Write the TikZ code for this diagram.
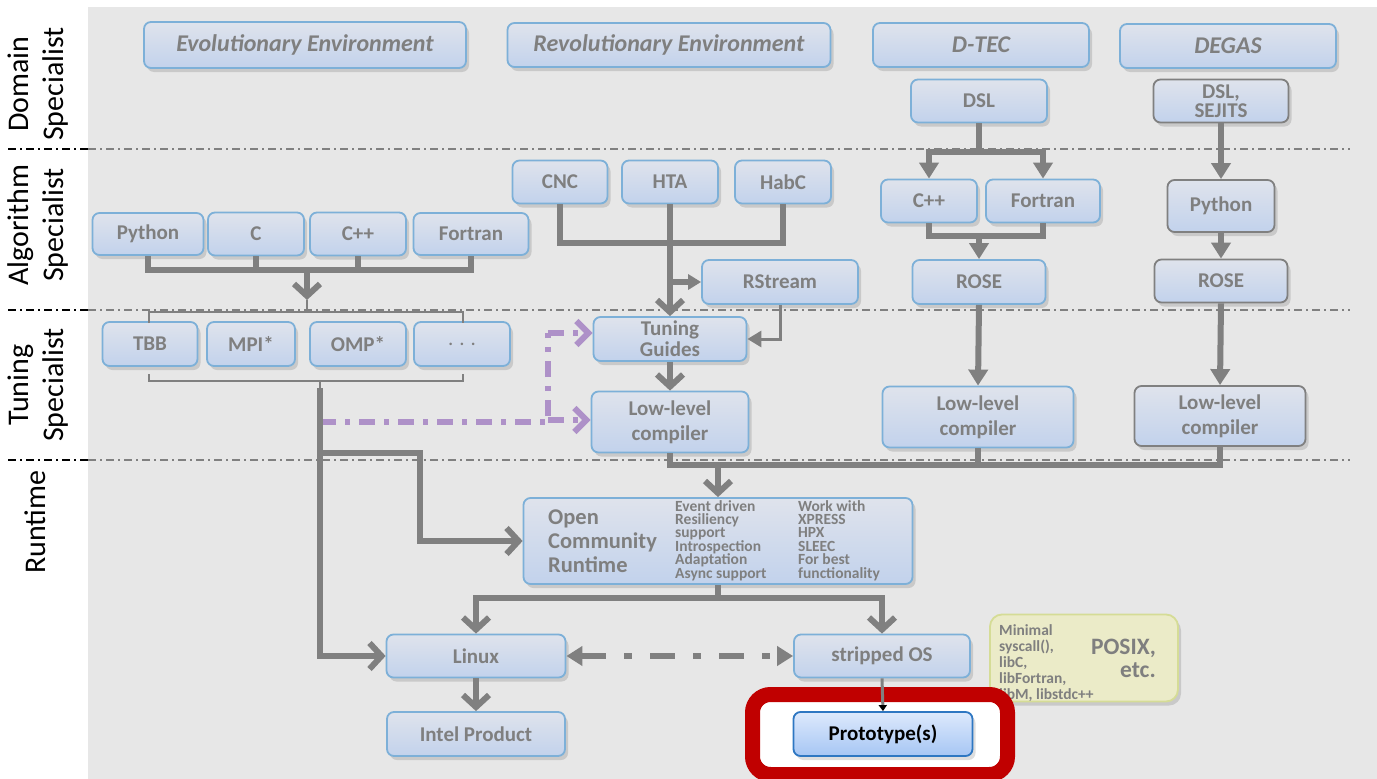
\documentclass[tikz,border=0pt]{standalone}
\usepackage{fontspec}
\setmainfont{Carlito}
\usetikzlibrary{arrows.meta,shadows,calc}

\definecolor{canvas}{HTML}{E7E7E7}
\definecolor{txt}{HTML}{7F7F7F}
\definecolor{edgeblue}{HTML}{7DB0D8}
\definecolor{boxtop}{HTML}{DFE3EC}
\definecolor{boxbot}{HTML}{C2D2EC}
\definecolor{wirecol}{HTML}{808080}
\definecolor{lilac}{HTML}{AE91C8}
\definecolor{framered}{HTML}{C00000}
\definecolor{notefill}{HTML}{EBEBC8}
\definecolor{noteedge}{HTML}{D5DC96}
\definecolor{protop}{HTML}{DDE9FC}
\definecolor{probot}{HTML}{A6C6F4}
\definecolor{proedge}{HTML}{2E77C2}

\newcommand{\fsz}[2]{\fontsize{#1}{#2}\selectfont}

\tikzset{
  chev/.tip={Straight Barb[length=12pt,width=26pt]},
  tri/.tip={Triangle[length=16pt,width=19pt]},
  box/.style={draw=edgeblue, line width=1.8pt, rounded corners=7pt,
    top color=boxtop, bottom color=boxbot, text=txt,
    font=\bfseries\fsz{21}{22}, align=center, inner sep=0pt,
    drop shadow={shadow xshift=3pt, shadow yshift=-4pt, opacity=0.13, fill=black}},
  greybox/.style={box, draw=wirecol},
  headbox/.style={box, font=\bfseries\itshape\fsz{24}{26}},
  lanelabel/.style={rotate=90, align=center, font=\fsz{30}{35}, text=black, inner sep=0pt},
  link/.style={draw=wirecol, line width=6pt},
  thinlink/.style={draw=wirecol, line width=3pt},
  bracket/.style={draw=wirecol, line width=1.4pt},
  lilacline/.style={draw=lilac, line width=6pt, dash pattern=on 16pt off 9pt on 5pt off 9pt},
  lanesep/.style={draw=wirecol, line width=1.4pt, dash pattern=on 8pt off 4pt on 2pt off 4pt},
  lanesepdark/.style={lanesep, draw=black},
}

\begin{document}
\begin{tikzpicture}[x=1pt,y=-1pt]
\useasboundingbox (0,0) rectangle (1377,779);
\fill[canvas] (88,7) rectangle (1377,779);

% lane separators
\foreach \yy in {149,310,460}{
  \draw[lanesepdark] (8,\yy) -- (88,\yy);
  \draw[lanesep] (88,\yy) -- (1350,\yy);
}

% lane labels
\node[lanelabel] (laneDom) at (38,84) {Domain\\Specialist};
\node[lanelabel] (laneAlg) at (38,225) {Algorithm\\Specialist};
\node[lanelabel] (laneTun) at (38,385) {Tuning\\Specialist};
\node[lanelabel] (laneRun) at (35,522) {Runtime};

% environments
\node[headbox, minimum width=322pt, minimum height=46pt] (evo) at (305,45) {Evolutionary Environment};
\node[headbox, minimum width=323pt, minimum height=44pt] (rev) at (669,45) {Revolutionary Environment};
\node[headbox, minimum width=216pt, minimum height=44pt] (dtec) at (981,45) {D-TEC};
\node[headbox, minimum width=216pt, minimum height=44pt] (degas) at (1228,46) {DEGAS};

% domain level
\node[box, minimum width=136pt, minimum height=43pt] (dsl) at (979,101) {DSL};
\node[greybox, minimum width=135pt, minimum height=43pt, font=\bfseries\fsz{21}{19}] (sej) at (1221,101) {DSL,\\SEJITS};

% algorithm level
\node[box, minimum width=95pt, minimum height=43pt] (cnc) at (560,182) {CNC};
\node[box, minimum width=96pt, minimum height=43pt] (hta) at (670,182) {HTA};
\node[box, minimum width=96pt, minimum height=43pt] (habc) at (783,182) {HabC};
\node[box, minimum width=96pt, minimum height=43pt] (cppd) at (929,201) {C++};
\node[box, minimum width=114pt, minimum height=43pt] (ftd) at (1043,201) {Fortran};
\node[greybox, minimum width=107pt, minimum height=52pt] (pyd) at (1221,206) {Python};
\node[box, minimum width=111pt, minimum height=42pt] (py) at (148,234) {Python};
\node[box, minimum width=96pt, minimum height=43pt] (cc) at (256,234) {C};
\node[box, minimum width=96pt, minimum height=43pt] (cpp) at (358,234) {C++};
\node[box, minimum width=115pt, minimum height=42pt] (ft) at (471,234) {Fortran};
\node[box, minimum width=156pt, minimum height=44pt] (rs) at (780,282) {RStream};
\node[box, minimum width=133pt, minimum height=44pt] (rosed) at (979,282) {ROSE};
\node[greybox, minimum width=133pt, minimum height=43pt] (roseg) at (1221,281) {ROSE};

% tuning level
\node[box, minimum width=95pt, minimum height=44pt] (tbb) at (150,344) {TBB};
\node[box, minimum width=88pt, minimum height=44pt] (mpi) at (251,344) {MPI*};
\node[box, minimum width=96pt, minimum height=44pt] (omp) at (358,344) {OMP*};
\node[box, minimum width=96pt, minimum height=44pt, font=\fsz{21}{22}] (more) at (462,344) {.\hspace{6pt}.\hspace{6pt}.};
\node[box, minimum width=153pt, minimum height=44pt, font=\bfseries\fsz{21}{21}] (tg) at (670,339) {Tuning\\Guides};
\node[box, minimum width=157pt, minimum height=61pt, font=\bfseries\fsz{21}{25}] (lla) at (670,422) {Low-level\\compiler};
\node[box, minimum width=191pt, minimum height=61pt, font=\bfseries\fsz{21}{25}] (llb) at (978,417) {Low-level\\compiler};
\node[greybox, minimum width=171pt, minimum height=60pt, font=\bfseries\fsz{21}{25}] (llc) at (1220,416) {Low-level\\compiler};

% runtime level
\node[box, minimum width=389pt, minimum height=86pt] (ocr) at (718,541) {};
\node[anchor=west, align=left, text=txt, font=\bfseries\fsz{22.5}{24}, inner sep=0pt] (ocrname) at (548,541) {Open\\Community\\Runtime};
\node[anchor=north west, align=left, text=txt, font=\bfseries\fsz{15.5}{13.4}, inner sep=0pt] (ocrfeat) at (675,500) {Event driven\\Resiliency\\support\\Introspection\\Adaptation\\Async support};
\node[anchor=north west, align=left, text=txt, font=\bfseries\fsz{15.5}{13.4}, inner sep=0pt] (ocrwith) at (798,500) {Work with\\XPRESS\\HPX\\SLEEC\\For best\\functionality};

\node[box, minimum width=179pt, minimum height=43pt] (lin) at (476,656) {Linux};
\node[box, minimum width=176pt, minimum height=43pt] (sos) at (882,656) {stripped OS};
\node[box, minimum width=178pt, minimum height=44pt] (intel) at (476,734) {Intel Product};

% library note
\node[draw=noteedge, fill=notefill, line width=1.8pt, rounded corners=12pt, minimum width=188pt, minimum height=87pt,
      drop shadow={shadow xshift=3pt, shadow yshift=-4pt, opacity=0.13, fill=black}] (posix) at (1084,658) {};
\node[anchor=north west, align=left, text=txt, font=\bfseries\fsz{15.5}{16}, inner sep=0pt] (posixlibs) at (999,624) {Minimal\\syscall(),\\libC,\\libFortran,\\libM, libstdc++};
\node[anchor=east, align=right, text=txt, font=\bfseries\fsz{23.5}{23}, inner sep=0pt] (posixname) at (1156,658) {POSIX,\\etc.};

% highlight frame
\draw[framered, line width=15pt, rounded corners=18pt, fill=white] (752.5,694.5) rectangle (1007.5,774.5);
\node[box, draw=proedge, top color=protop, bottom color=probot, text=black, minimum width=179pt, minimum height=44pt] (proto) at (883,734) {Prototype(s)};

% brackets round the tuning libraries
\coordinate (bktTop) at (307,312);
\coordinate (bktBot) at (320,381);
\draw[bracket] (149,323) -- (149,312) -- (463,312) -- (463,323);
\draw[bracket] (bktTop) -- (307,300);
\draw[bracket] (149,374) -- (149,381) -- (463,381) -- (463,374);
\draw[bracket] (bktBot) -- (320,388);

% tuning hints
\coordinate (hintTG) at (548,333);
\coordinate (hintLL) at (548,420);
\draw[lilacline] (320,422) -- (548,422) -- (hintTG);
\draw[lilacline, -{Straight Barb[length=12pt,width=24pt,color=lilac]}] (hintTG) -- (hintTG -| tg.west);
\draw[lilacline, -{Straight Barb[length=12pt,width=24pt,color=lilac]}] (hintLL) -- (hintLL -| lla.west);

% evolutionary languages
\coordinate (langJoin) at (307,270);
\draw[link] (py.south) |- (langJoin) -| (ft.south);
\draw[link] (cc.south) -- (cc.south |- langJoin);
\draw[link] (cpp.south) -- (cpp.south |- langJoin);
\draw[link, -chev] (langJoin) -- (307,300);

% left runtime paths
\draw[link, -chev] (320,388) |- (lin.west);
\draw[link, -chev] (320,453) -- (420,453) |- (ocr.west);

% revolutionary languages
\coordinate (revJoin) at (670,243);
\draw[link] (cnc.south) |- (revJoin) -| (habc.south);
\draw[link, -chev] (hta.south) -- (tg.north);
\coordinate (rsJoin) at (hta.south |- rs.west);
\draw[link, -{Triangle[length=13pt,width=15pt]}] (rsJoin) -- (rs.west);
\draw[thinlink, -{Triangle[length=14pt,width=16pt]}] (rs.south) |- (tg.east);
\draw[link, -chev] (tg.south) -- (lla.north);

% D-TEC chain
\coordinate (dslJoin) at (979,152);
\draw[link] (dsl.south) -- (dslJoin);
\draw[link, -tri] (dslJoin) -| (cppd.north);
\draw[link, -tri] (dslJoin) -| (ftd.north);
\coordinate (roseJoin) at (979,236);
\draw[link] (cppd.south) |- (roseJoin) -| (ftd.south);
\draw[link, -tri] (roseJoin) -- (rosed.north);
\draw[link, -tri] (rosed.south) -- (llb.north);

% DEGAS chain
\draw[link, -tri] (sej.south) -- (pyd.north);
\draw[link, -tri] (pyd.south) -- (roseg.north);
\draw[link, -tri] (roseg.south) -- (llc.north);

% compilers into the runtime
\coordinate (llJoin) at (718,465);
\draw[link] (lla.south) -- (lla.south |- llJoin) -- (llc.south |- llJoin) -- (llc.south);
\draw[link] (llb.south) -- (llb.south |- llJoin);
\draw[link, -chev] (llJoin) -- (ocr.north);

% runtime to operating systems
\coordinate (osJoin) at (718,598);
\draw[link] (ocr.south) -- (osJoin);
\draw[link, -chev] (osJoin) -| (lin.north);
\draw[link, -chev] (osJoin) -| (sos.north);
\draw[link, dash pattern=on 25pt off 18pt on 8pt off 18pt, tri-tri] (lin.east) -- (sos.west);
\draw[link, -chev] (lin.south) -- (intel.north);
\draw[thinlink, -{Triangle[length=6pt,width=8pt,color=black]}] (sos.south) -- (proto.north);
\end{tikzpicture}
\end{document}
